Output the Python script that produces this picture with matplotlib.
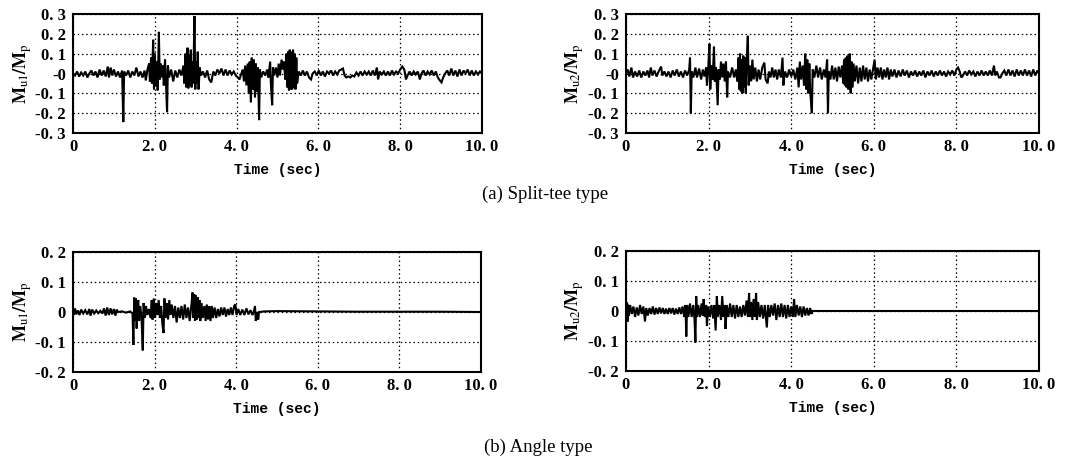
#!/usr/bin/env python3
"""
plot.py

Moment ratio time histories for split-tee and angle connections.
Four panels: M_u1/M_p and M_u2/M_p for each connection type.

Output:
    out.png
"""

import matplotlib
matplotlib.use("Agg")
import matplotlib.pyplot as plt


# =============================================================================
# DATA
# =============================================================================

# (a) Split-tee type, M_u1 / M_p
tee_u1_t = [
    0.00, 0.05, 0.10, 0.15, 0.20, 0.25, 0.30, 0.35, 0.40, 0.45, 0.50, 0.55,
    0.60, 0.65, 0.70, 0.75, 0.80, 0.85, 0.88, 0.92, 0.96, 1.00, 1.05, 1.10,
    1.15, 1.20, 1.23, 1.25, 1.30, 1.35, 1.40, 1.45, 1.50, 1.55, 1.60, 1.65,
    1.70, 1.75, 1.78, 1.82, 1.86, 1.88, 1.91, 1.93, 1.96, 1.98, 2.00, 2.02,
    2.05, 2.07, 2.10, 2.12, 2.14, 2.17, 2.20, 2.22, 2.25, 2.27, 2.30, 2.32,
    2.35, 2.40, 2.45, 2.50, 2.55, 2.60, 2.65, 2.70, 2.72, 2.75, 2.77, 2.80,
    2.82, 2.84, 2.86, 2.88, 2.90, 2.92, 2.94, 2.97, 2.99, 3.01, 3.03, 3.05,
    3.07, 3.10, 3.13, 3.18, 3.23, 3.28, 3.33, 3.38, 3.43, 3.48, 3.53, 3.58,
    3.63, 3.68, 3.73, 3.78, 3.83, 3.88, 3.93, 3.98, 4.03, 4.07, 4.10, 4.15,
    4.18, 4.21, 4.24, 4.27, 4.30, 4.32, 4.35, 4.37, 4.40, 4.42, 4.45, 4.47,
    4.50, 4.52, 4.55, 4.57, 4.60, 4.65, 4.70, 4.75, 4.78, 4.82, 4.84, 4.87,
    4.89, 4.92, 4.96, 5.00, 5.03, 5.06, 5.10, 5.13, 5.16, 5.19, 5.22, 5.24,
    5.26, 5.28, 5.30, 5.32, 5.34, 5.36, 5.38, 5.40, 5.42, 5.44, 5.46, 5.48,
    5.52, 5.57, 5.62, 5.67, 5.72, 5.77, 5.82, 5.86, 5.91, 5.96, 6.01, 6.06,
    6.11, 6.16, 6.21, 6.26, 6.31, 6.36, 6.41, 6.46, 6.51, 6.56, 6.60, 6.64,
    6.68, 6.73, 6.78, 6.83, 6.88, 6.93, 6.98, 7.03, 7.08, 7.13, 7.18, 7.23,
    7.28, 7.33, 7.38, 7.43, 7.46, 7.50, 7.55, 7.60, 7.65, 7.70, 7.75, 7.80,
    7.85, 7.90, 7.95, 8.00, 8.05, 8.10, 8.14, 8.18, 8.23, 8.28, 8.33, 8.38,
    8.43, 8.48, 8.52, 8.57, 8.62, 8.67, 8.72, 8.77, 8.82, 8.87, 8.92, 8.97,
    9.01, 9.05, 9.10, 9.15, 9.20, 9.25, 9.30, 9.35, 9.40, 9.45, 9.50, 9.55,
    9.60, 9.65, 9.70, 9.75, 9.80, 9.85, 9.90, 9.95, 10.00,
]
tee_u1_m = [
    0.00, -0.01, 0.01, -0.015, 0.005, -0.01, 0.01, -0.02, 0.00, 0.015, -0.01, 0.01,
    -0.02, 0.02, -0.01, 0.015, -0.015, 0.035, -0.02, 0.03, -0.01, 0.02, -0.015, 0.01,
    -0.02, 0.015, -0.245, 0.01, -0.01, 0.015, -0.02, 0.01, -0.01, 0.03, -0.015, 0.01,
    -0.02, 0.015, -0.035, 0.02, 0.05, -0.04, 0.08, -0.05, 0.17, -0.08, 0.10, -0.06,
    0.06, -0.085, 0.21, -0.03, 0.05, -0.02, 0.04, -0.06, 0.07, -0.03, -0.195, 0.04,
    -0.02, 0.02, -0.04, 0.015, -0.02, 0.02, -0.01, 0.04, -0.05, 0.10, -0.07, 0.13,
    -0.075, 0.09, -0.06, 0.12, -0.07, 0.06, -0.05, 0.29, -0.08, 0.06, -0.05, 0.11,
    -0.08, 0.03, -0.01, 0.01, -0.02, 0.015, -0.03, -0.045, 0.01, -0.01, 0.02, 0.00,
    0.025, -0.01, 0.02, -0.01, 0.015, -0.005, 0.01, -0.01, -0.02, -0.03, -0.01, 0.02,
    -0.04, 0.04, -0.06, 0.05, -0.10, 0.06, -0.145, 0.08, -0.08, 0.07, -0.12, 0.05,
    -0.09, 0.03, -0.235, 0.02, -0.02, 0.01, -0.01, 0.02, -0.02, 0.06, -0.06, -0.16,
    0.03, -0.01, 0.03, -0.02, 0.05, -0.01, 0.07, 0.02, 0.06, -0.03, 0.10, -0.07,
    0.11, -0.085, 0.12, -0.08, 0.11, -0.08, 0.12, -0.07, 0.10, -0.08, 0.08, -0.05,
    0.01, -0.01, 0.015, -0.01, 0.01, -0.02, -0.03, 0.00, 0.01, -0.01, 0.015, -0.01,
    0.01, -0.015, 0.01, 0.00, 0.015, -0.01, 0.01, -0.005, 0.015, 0.02, 0.025, -0.01,
    -0.02, -0.015, -0.02, -0.01, -0.015, 0.005, -0.01, 0.01, -0.01, 0.01, -0.005, 0.01,
    -0.01, 0.015, -0.01, 0.03, -0.03, 0.01, -0.005, 0.01, -0.01, 0.01, -0.01, 0.015,
    -0.005, 0.01, 0.00, 0.02, 0.035, 0.02, -0.03, -0.01, 0.01, -0.01, 0.01, -0.005,
    0.01, -0.03, 0.00, 0.015, -0.01, 0.01, -0.005, 0.015, -0.01, 0.01, -0.02, -0.035,
    -0.045, -0.02, 0.00, 0.015, -0.01, 0.025, -0.01, 0.015, -0.015, 0.02, -0.01, 0.015,
    0.00, 0.02, -0.01, 0.015, -0.01, 0.01, -0.005, 0.01, 0.00,
]

# (a) Split-tee type, M_u2 / M_p
tee_u2_t = [
    0.00, 0.04, 0.08, 0.13, 0.17, 0.22, 0.27, 0.32, 0.37, 0.42, 0.47, 0.52,
    0.56, 0.60, 0.64, 0.69, 0.74, 0.79, 0.85, 0.88, 0.93, 0.98, 1.03, 1.08,
    1.13, 1.18, 1.23, 1.28, 1.33, 1.38, 1.43, 1.48, 1.53, 1.55, 1.57, 1.59,
    1.63, 1.68, 1.72, 1.77, 1.82, 1.86, 1.90, 1.94, 1.96, 1.99, 2.02, 2.04,
    2.07, 2.10, 2.13, 2.15, 2.18, 2.22, 2.24, 2.27, 2.30, 2.33, 2.36, 2.39,
    2.42, 2.45, 2.47, 2.52, 2.57, 2.62, 2.66, 2.70, 2.72, 2.74, 2.76, 2.78,
    2.80, 2.82, 2.84, 2.86, 2.88, 2.90, 2.92, 2.95, 2.97, 3.00, 3.03, 3.06,
    3.09, 3.13, 3.17, 3.21, 3.25, 3.30, 3.35, 3.38, 3.43, 3.46, 3.50, 3.54,
    3.58, 3.62, 3.66, 3.70, 3.75, 3.79, 3.81, 3.85, 3.90, 3.95, 4.00, 4.05,
    4.10, 4.15, 4.18, 4.21, 4.24, 4.28, 4.31, 4.34, 4.36, 4.39, 4.41, 4.44,
    4.46, 4.50, 4.52, 4.56, 4.61, 4.65, 4.70, 4.74, 4.79, 4.83, 4.87, 4.89,
    4.91, 4.95, 4.99, 5.03, 5.07, 5.11, 5.15, 5.19, 5.23, 5.26, 5.28, 5.30,
    5.32, 5.34, 5.36, 5.38, 5.40, 5.42, 5.44, 5.46, 5.48, 5.51, 5.54, 5.58,
    5.62, 5.66, 5.70, 5.74, 5.78, 5.82, 5.86, 5.90, 5.94, 5.98, 6.02, 6.05,
    6.09, 6.13, 6.17, 6.21, 6.25, 6.29, 6.33, 6.37, 6.41, 6.45, 6.50, 6.55,
    6.60, 6.65, 6.70, 6.75, 6.80, 6.85, 6.90, 6.95, 7.00, 7.05, 7.10, 7.15,
    7.20, 7.25, 7.30, 7.35, 7.40, 7.45, 7.50, 7.55, 7.60, 7.65, 7.70, 7.75,
    7.80, 7.85, 7.90, 7.95, 8.00, 8.04, 8.08, 8.12, 8.16, 8.21, 8.26, 8.31,
    8.36, 8.41, 8.46, 8.51, 8.56, 8.61, 8.66, 8.71, 8.76, 8.81, 8.86, 8.91,
    8.94, 8.98, 9.03, 9.07, 9.11, 9.16, 9.21, 9.26, 9.31, 9.36, 9.41, 9.46,
    9.51, 9.56, 9.61, 9.66, 9.71, 9.76, 9.81, 9.86, 9.91, 9.96, 10.00,
]
tee_u2_m = [
    0.00, 0.02, -0.015, 0.03, -0.02, 0.01, -0.015, 0.015, -0.02, 0.01, -0.01, 0.015,
    -0.02, 0.03, -0.01, 0.015, -0.015, 0.01, 0.035, -0.01, 0.01, -0.015, 0.01, -0.02,
    0.015, -0.01, 0.02, -0.015, 0.01, -0.02, 0.015, -0.01, 0.02, 0.08, -0.20, 0.01,
    -0.02, 0.03, -0.02, 0.025, -0.03, 0.02, -0.015, 0.03, -0.06, 0.02, 0.15, -0.08,
    0.04, -0.03, 0.135, -0.04, 0.03, -0.16, 0.02, -0.03, 0.06, -0.02, 0.05, -0.04,
    0.06, -0.12, 0.01, -0.02, 0.03, -0.02, 0.02, -0.04, 0.08, -0.08, 0.10, -0.09,
    0.07, -0.10, 0.09, -0.07, 0.08, -0.10, 0.06, 0.19, -0.06, 0.04, -0.04, 0.07,
    -0.03, 0.03, -0.04, 0.02, -0.03, 0.03, 0.055, -0.03, -0.05, 0.01, -0.02, 0.03,
    -0.02, 0.02, -0.03, 0.02, -0.02, 0.08, -0.06, 0.01, -0.02, 0.02, -0.015, 0.02,
    -0.03, 0.03, -0.07, 0.06, -0.03, 0.04, -0.06, 0.10, -0.08, 0.07, -0.10, 0.05,
    -0.09, -0.20, 0.02, -0.02, 0.04, -0.02, 0.03, -0.03, 0.02, -0.02, 0.07, -0.20,
    0.01, -0.03, 0.04, -0.03, 0.03, -0.04, 0.035, -0.02, 0.04, -0.05, 0.07, -0.06,
    0.08, -0.07, 0.09, -0.08, 0.07, 0.10, -0.10, 0.06, -0.07, 0.05, -0.04, 0.04,
    -0.05, 0.03, -0.04, 0.04, -0.03, 0.03, -0.04, 0.02, -0.03, 0.02, 0.07, -0.03,
    0.03, -0.02, 0.03, -0.03, 0.02, -0.02, 0.03, -0.03, 0.02, -0.015, 0.02, -0.02,
    0.015, -0.015, 0.02, -0.01, 0.015, -0.02, 0.01, -0.01, 0.015, -0.015, 0.01, -0.01,
    0.015, -0.02, 0.01, -0.01, 0.015, -0.015, 0.01, -0.01, 0.015, -0.01, 0.01, -0.015,
    0.01, -0.005, 0.015, -0.01, 0.02, 0.03, 0.01, -0.02, -0.01, 0.01, -0.01, 0.015,
    -0.005, 0.01, -0.015, 0.01, -0.01, 0.015, -0.01, 0.01, -0.01, 0.015, -0.01, 0.04,
    -0.01, 0.01, -0.02, -0.02, 0.00, 0.015, -0.01, 0.02, -0.01, 0.015, -0.015, 0.02,
    -0.01, 0.015, -0.01, 0.02, -0.01, 0.015, -0.015, 0.02, -0.01, 0.015, 0.00,
]

# (b) Angle type, M_u1 / M_p
ang_u1_t = [
    0.00, 0.02, 0.05, 0.08, 0.12, 0.16, 0.20, 0.25, 0.30, 0.35, 0.40, 0.43,
    0.47, 0.52, 0.57, 0.62, 0.67, 0.72, 0.76, 0.80, 0.84, 0.88, 0.92, 0.96,
    1.00, 1.04, 1.07, 1.10, 1.20, 1.30, 1.40, 1.46, 1.48, 1.50, 1.52, 1.54,
    1.56, 1.58, 1.60, 1.62, 1.65, 1.68, 1.71, 1.73, 1.76, 1.79, 1.82, 1.86,
    1.90, 1.93, 1.95, 1.98, 2.01, 2.04, 2.07, 2.10, 2.13, 2.16, 2.19, 2.22,
    2.24, 2.27, 2.30, 2.33, 2.36, 2.39, 2.42, 2.46, 2.50, 2.54, 2.58, 2.62,
    2.66, 2.70, 2.74, 2.78, 2.82, 2.86, 2.90, 2.93, 2.95, 2.97, 2.99, 3.01,
    3.03, 3.05, 3.07, 3.10, 3.12, 3.15, 3.18, 3.22, 3.25, 3.28, 3.31, 3.34,
    3.37, 3.40, 3.43, 3.47, 3.51, 3.55, 3.59, 3.63, 3.67, 3.71, 3.75, 3.79,
    3.83, 3.87, 3.91, 3.95, 3.98, 4.01, 4.05, 4.10, 4.15, 4.20, 4.25, 4.30,
    4.35, 4.40, 4.44, 4.46, 4.48, 4.51, 4.54, 4.56, 4.70, 5.00, 6.00, 7.00,
    8.00, 9.00, 10.00,
]
ang_u1_m = [
    0.01, -0.01, 0.012, -0.008, 0.005, -0.01, 0.008, -0.005, 0.006, -0.008, 0.01, -0.012,
    0.008, -0.005, 0.005, -0.004, 0.004, -0.005, 0.012, -0.012, 0.015, -0.01, 0.012, -0.008,
    0.01, -0.012, 0.008, 0.00, 0.002, -0.002, 0.002, -0.005, -0.11, 0.048, -0.03, 0.045,
    -0.055, 0.02, 0.04, -0.03, 0.02, -0.02, -0.128, 0.03, -0.02, 0.02, -0.01, 0.01,
    -0.02, 0.04, -0.025, 0.045, -0.02, 0.03, -0.01, 0.04, -0.02, 0.02, -0.04, -0.07,
    0.045, -0.02, 0.03, -0.025, 0.04, -0.01, 0.025, -0.02, 0.02, -0.035, 0.015, -0.02,
    0.02, -0.025, 0.025, -0.02, 0.015, -0.03, 0.02, 0.065, -0.02, 0.06, -0.03, 0.055,
    -0.025, 0.05, -0.02, 0.04, -0.03, 0.03, -0.02, 0.02, -0.03, 0.025, -0.025, 0.02,
    -0.03, 0.02, -0.02, 0.015, -0.02, 0.01, -0.015, 0.015, -0.01, 0.015, -0.015, 0.01,
    -0.01, 0.015, -0.01, 0.02, 0.025, -0.01, 0.01, -0.01, 0.008, -0.01, 0.012, -0.008,
    0.006, -0.01, 0.005, 0.02, -0.03, 0.00, -0.025, 0.00, 0.002, 0.003, 0.002, 0.001,
    0.001, 0.001, 0.00,
]

# (b) Angle type, M_u2 / M_p
ang_u2_t = [
    0.00, 0.01, 0.02, 0.03, 0.04, 0.05, 0.07, 0.10, 0.14, 0.18, 0.22, 0.26,
    0.30, 0.34, 0.38, 0.42, 0.46, 0.49, 0.53, 0.57, 0.61, 0.65, 0.69, 0.73,
    0.77, 0.81, 0.85, 0.89, 0.93, 0.97, 1.01, 1.05, 1.09, 1.13, 1.17, 1.21,
    1.25, 1.29, 1.33, 1.37, 1.41, 1.44, 1.46, 1.48, 1.51, 1.55, 1.59, 1.63,
    1.66, 1.68, 1.70, 1.72, 1.75, 1.79, 1.83, 1.86, 1.88, 1.91, 1.94, 1.96,
    1.99, 2.03, 2.07, 2.11, 2.14, 2.17, 2.20, 2.22, 2.26, 2.30, 2.33, 2.36,
    2.39, 2.41, 2.44, 2.48, 2.52, 2.56, 2.60, 2.64, 2.68, 2.72, 2.76, 2.80,
    2.84, 2.88, 2.92, 2.95, 2.98, 3.00, 3.03, 3.06, 3.09, 3.12, 3.15, 3.17,
    3.20, 3.24, 3.28, 3.32, 3.36, 3.41, 3.44, 3.48, 3.52, 3.56, 3.60, 3.64,
    3.68, 3.72, 3.76, 3.80, 3.84, 3.88, 3.92, 3.96, 4.00, 4.04, 4.07, 4.10,
    4.14, 4.18, 4.22, 4.26, 4.30, 4.34, 4.38, 4.42, 4.46, 4.49, 4.52, 5.00,
    6.00, 7.00, 8.00, 9.00, 10.00,
]
ang_u2_m = [
    0.00, 0.03, -0.03, 0.025, -0.035, 0.02, -0.015, 0.02, -0.01, 0.015, -0.02, 0.012,
    -0.015, 0.02, -0.01, 0.015, -0.035, 0.01, -0.015, 0.01, -0.01, 0.015, -0.012, 0.01,
    -0.01, 0.012, -0.008, 0.01, -0.01, 0.008, -0.01, 0.01, -0.008, 0.01, -0.012, 0.008,
    -0.01, 0.012, -0.01, 0.015, -0.02, 0.02, -0.085, 0.02, -0.02, 0.025, -0.02, 0.02,
    -0.03, -0.105, 0.05, -0.02, 0.02, -0.02, 0.025, -0.015, 0.04, -0.02, 0.02, -0.05,
    0.015, -0.02, 0.02, -0.025, 0.02, -0.065, 0.05, -0.02, 0.02, -0.03, 0.05, -0.02,
    0.02, -0.06, 0.02, -0.02, 0.025, -0.02, 0.02, -0.025, 0.02, -0.02, 0.015, -0.02,
    0.02, -0.015, 0.035, -0.02, 0.06, -0.02, 0.03, -0.03, 0.04, -0.02, 0.06, -0.03,
    0.03, -0.02, 0.02, -0.025, 0.02, -0.055, 0.02, -0.02, 0.02, -0.015, 0.025, -0.03,
    0.02, -0.02, 0.025, -0.02, 0.02, -0.025, 0.02, -0.02, 0.015, -0.02, 0.04, -0.02,
    0.02, -0.015, 0.015, -0.02, 0.015, -0.015, 0.01, -0.015, 0.01, -0.01, 0.00, 0.00,
    0.00, 0.00, 0.00, 0.00, 0.00,
]

# Axis ticks and labels
x_ticks = [0, 2, 4, 6, 8, 10]
x_tick_labels = ["0", "2. 0", "4. 0", "6. 0", "8. 0", "10. 0"]

tee_y_ticks = [-0.3, -0.2, -0.1, 0.0, 0.1, 0.2, 0.3]
tee_y_tick_labels = ["-0. 3", "-0. 2", "-0. 1", "-0", "0. 1", "0. 2", "0. 3"]

ang_y_ticks = [-0.2, -0.1, 0.0, 0.1, 0.2]
ang_y_tick_labels = ["-0. 2", "-0. 1", "0", "0. 1", "0. 2"]

ylabel_u1 = r"$\mathbf{M}_{\mathrm{u1}}\mathbf{/M}_{\mathrm{p}}$"
ylabel_u2 = r"$\mathbf{M}_{\mathrm{u2}}\mathbf{/M}_{\mathrm{p}}$"
caption_a = "(a) Split-tee type"
caption_b = "(b) Angle type"


# =============================================================================
# STYLE
# =============================================================================

FIG_W_PX = 1073
FIG_H_PX = 466
DPI = 100

TICK_FONT = {"family": "Liberation Serif", "weight": "bold", "size": 12}
XLABEL_FONT = {"family": "Liberation Mono", "weight": "bold", "size": 10.5}
CAPTION_FONT = {"family": "Liberation Serif", "size": 13.5}

# Axes boxes in pixels: (left, top, right, bottom)
BOX_TL = (73, 14, 482, 133)
BOX_TR = (626, 14, 1039, 133)
BOX_BL = (73, 252, 481, 372)
BOX_BR = (626, 251, 1039, 371)


# =============================================================================
# HELPERS
# =============================================================================

def px_box(fig, box):
    left, top, right, bottom = box
    return fig.add_axes([
        left / FIG_W_PX,
        1 - bottom / FIG_H_PX,
        (right - left) / FIG_W_PX,
        (bottom - top) / FIG_H_PX,
    ])


def draw_panel(ax, t, m, y_ticks, y_tick_labels, ylabel):
    ax.plot(t, m, color="black", linewidth=1.5, solid_joinstyle="miter")

    ax.set_xlim(0, 10)
    ax.set_ylim(y_ticks[0], y_ticks[-1])

    ax.set_xticks(x_ticks)
    ax.set_xticklabels(x_tick_labels, fontdict=TICK_FONT)
    ax.set_yticks(y_ticks)
    ax.set_yticklabels(y_tick_labels, fontdict=TICK_FONT)
    ax.tick_params(axis="both", length=0)
    ax.tick_params(axis="x", pad=4)
    ax.tick_params(axis="y", pad=5)

    ax.grid(True, color="black", linestyle=(0, (1.2, 2.2)), linewidth=0.9)
    ax.set_axisbelow(True)

    for spine in ax.spines.values():
        spine.set_linewidth(1.5)

    ax.set_xlabel("Time (sec)", fontdict=XLABEL_FONT)
    ax.xaxis.set_label_coords(0.5, -0.31)
    ax.xaxis.label.set_va("center")

    ax.set_ylabel(ylabel, fontsize=13)
    ax.yaxis.set_label_coords(-0.124, 0.5)
    ax.yaxis.label.set_va("center")


# =============================================================================
# MAIN
# =============================================================================

def main():
    plt.rcParams["mathtext.fontset"] = "stix"

    fig = plt.figure(figsize=(FIG_W_PX / DPI, FIG_H_PX / DPI), dpi=DPI)

    ax_tl = px_box(fig, BOX_TL)
    ax_tr = px_box(fig, BOX_TR)
    ax_bl = px_box(fig, BOX_BL)
    ax_br = px_box(fig, BOX_BR)

    draw_panel(ax_tl, tee_u1_t, tee_u1_m, tee_y_ticks, tee_y_tick_labels, ylabel_u1)
    draw_panel(ax_tr, tee_u2_t, tee_u2_m, tee_y_ticks, tee_y_tick_labels, ylabel_u2)
    draw_panel(ax_bl, ang_u1_t, ang_u1_m, ang_y_ticks, ang_y_tick_labels, ylabel_u1)
    draw_panel(ax_br, ang_u2_t, ang_u2_m, ang_y_ticks, ang_y_tick_labels, ylabel_u2)

    fig.text(545 / FIG_W_PX, 1 - 194 / FIG_H_PX, caption_a,
             ha="center", va="center", fontdict=CAPTION_FONT)
    fig.text(538 / FIG_W_PX, 1 - 447 / FIG_H_PX, caption_b,
             ha="center", va="center", fontdict=CAPTION_FONT)

    fig.savefig("out.png", dpi=DPI)


if __name__ == "__main__":
    main()
